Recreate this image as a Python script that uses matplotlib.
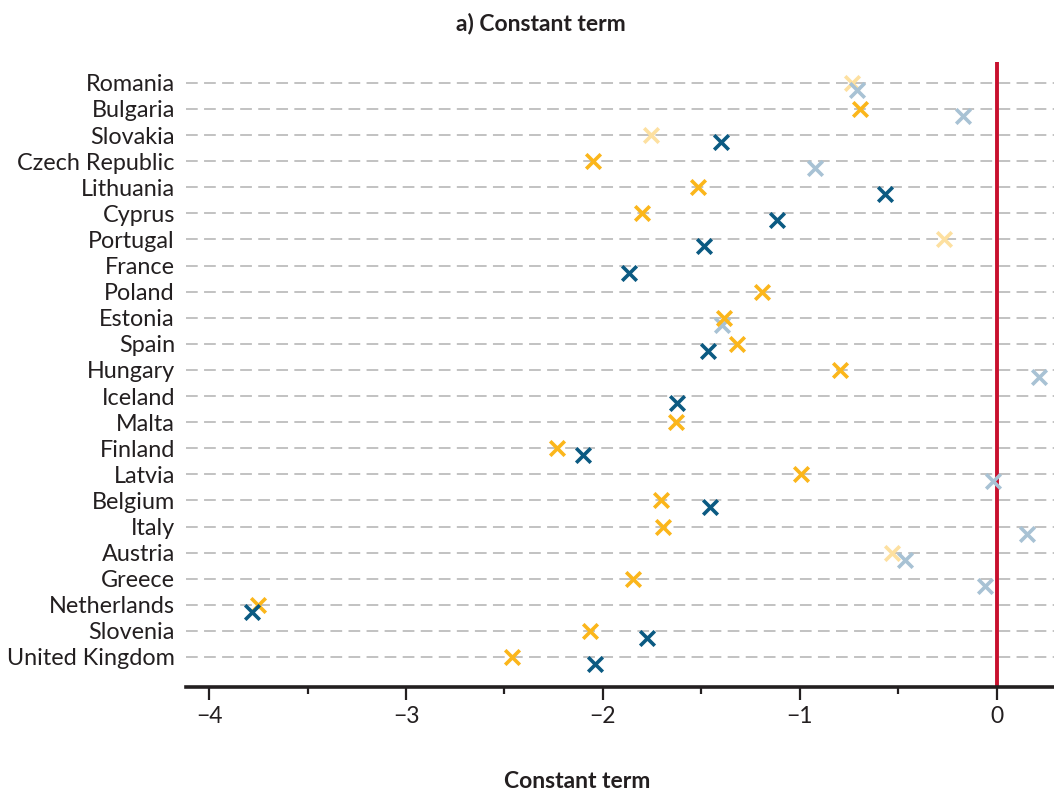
import numpy as np
import matplotlib
matplotlib.use("Agg")
import matplotlib.pyplot as plt
from matplotlib.ticker import MultipleLocator

plt.rcParams['font.family'] = ['Lato', 'DejaVu Sans']

countries = ["Romania", "Bulgaria", "Slovakia", "Czech Republic", "Lithuania", "Cyprus",
             "Portugal", "France", "Poland", "Estonia", "Spain", "Hungary", "Iceland",
             "Malta", "Finland", "Latvia", "Belgium", "Italy", "Austria", "Greece",
             "Netherlands", "Slovenia", "United Kingdom"]

nan = np.nan
gold_vals = [-0.738, -0.695, -1.758, -2.052, -1.516, -1.804, -0.266, nan, -1.195, -1.384,
             -1.318, -0.797, nan, -1.631, -2.235, -0.993, -1.707, -1.697, -0.530, -1.849,
             -3.750, -2.066, -2.460]
gold_sig = [False, True, False, True, True, True, False, False, True, True,
            True, True, False, True, True, True, True, True, False, True,
            True, True, True]
blue_vals = [-0.712, -0.174, -1.403, -0.925, -0.567, -1.118, -1.487, -1.870, nan, -1.398,
             -1.465, 0.215, -1.626, nan, -2.100, -0.019, -1.457, 0.151, -0.465, -0.061,
             -3.782, -1.775, -2.042]
blue_sig = [False, False, True, False, True, True, True, True, False, False,
            True, False, True, False, True, False, True, False, False, False,
            True, True, True]
xtick_vals = [-4, -3, -2, -1, 0]
xtick_labels = ["\u22124", "\u22123", "\u22122", "\u22121", "0"]

GOLD, GOLD_L = "#FBB61B", "#FDE0A0"
BLUE, BLUE_L = "#0B5A82", "#A8C2D4"
INK = "#231F20"

fig = plt.figure(figsize=(10.54, 7.92), dpi=100)
ax = fig.add_axes([186/1054, 1-687/792, 1-186/1054, (687-62)/792])

n = len(countries)
ypos = np.arange(n)
off = 0.27

gv = np.array(gold_vals); gs = np.array(gold_sig)
bv = np.array(blue_vals); bs = np.array(blue_sig)

for y in ypos:
    ax.axhline(y, color="#BDBDBD", lw=1.3, ls=(0, (6.5, 3.5)), zorder=1)

ax.axvline(0, color="#C8102E", lw=2.8, zorder=2)

mk = dict(marker="x", s=110, linewidths=2.6, zorder=3)
ax.scatter(gv[~gs], ypos[~gs], color=GOLD_L, **mk)
ax.scatter(bv[~bs], ypos[~bs] + off, color=BLUE_L, **mk)
ax.scatter(gv[gs], ypos[gs], color=GOLD, **mk)
ax.scatter(bv[bs], ypos[bs] + off, color=BLUE, **mk)

ax.set_ylim(n - 1 + 1.15, -0.8)
ax.set_xlim(-4.117, 0.29)
ax.set_yticks(ypos)
ax.set_yticklabels(countries, fontsize=16.8, color=INK)
ax.tick_params(axis="y", length=0, pad=8)

ax.xaxis.set_minor_locator(MultipleLocator(0.5))
ax.set_xticks(xtick_vals)
ax.set_xticklabels(xtick_labels, fontsize=16.5, color=INK)
ax.tick_params(axis="x", which="major", direction="out", length=9, width=1.6, color=INK, pad=5)
ax.tick_params(axis="x", which="minor", direction="out", length=5, width=1.6, color=INK)

for s in ["top", "right", "left"]:
    ax.spines[s].set_visible(False)
ax.spines["bottom"].set_linewidth(2.6)
ax.spines["bottom"].set_color(INK)

fig.text(577/1054, 1-781/792, "Constant term", fontsize=16.5, fontweight="bold",
         color=INK, ha="center", va="center")
fig.text(541/1054, 1-23/792, "a) Constant term", fontsize=16.5, fontweight="bold",
         color=INK, ha="center", va="center")

fig.savefig("out.png", dpi=100)
